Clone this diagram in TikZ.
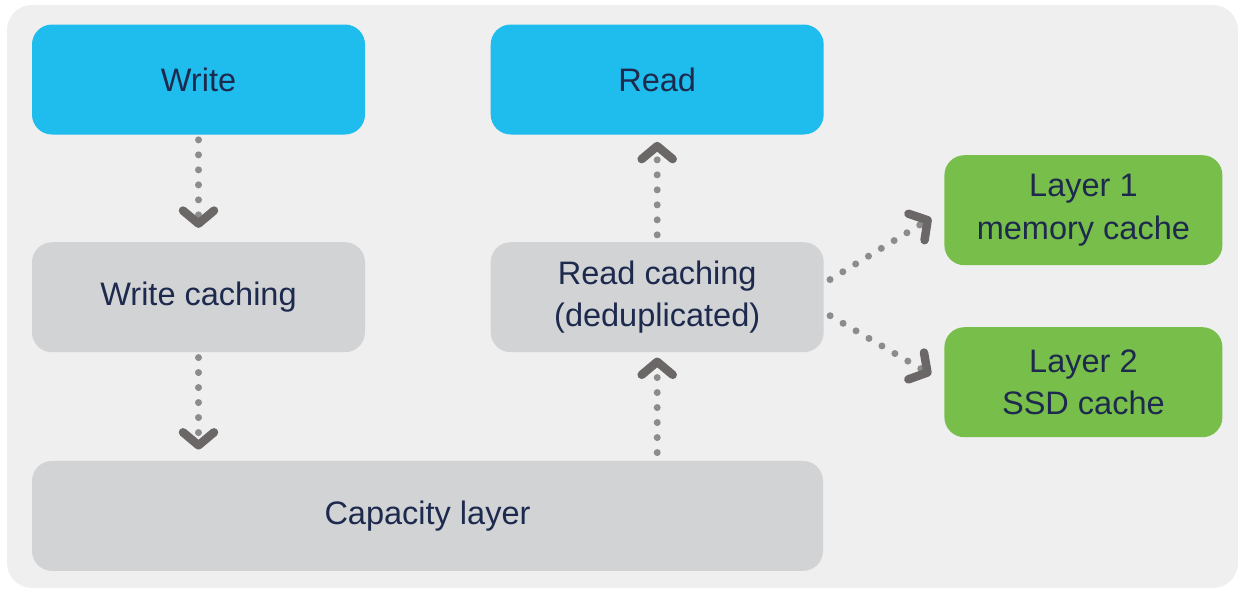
\documentclass[tikz,border=0pt]{standalone}
\usepackage{fontspec}
\setmainfont{Liberation Sans}
\usetikzlibrary{positioning,arrows.meta}

\definecolor{bgcol}{HTML}{EFEFEF}
\definecolor{bluecol}{HTML}{1EBDED}
\definecolor{greycol}{HTML}{D2D3D5}
\definecolor{greencol}{HTML}{78BE4A}
\definecolor{txtcol}{HTML}{1D2A4E}
\definecolor{dotcol}{HTML}{8C8C8C}
\definecolor{chevcol}{HTML}{6B6767}

\tikzset{
  box/.style={rounded corners=0.4cm, minimum width=6.66cm, minimum height=2.2cm,
              align=center, text=txtcol, font=\fontsize{18.5}{24}\selectfont},
  bluebox/.style={box, fill=bluecol},
  greybox/.style={box, fill=greycol},
  greenbox/.style={box, fill=greencol, minimum width=5.56cm},
  flow/.style={draw=dotcol, line width=0.14cm, line cap=round,
               dash pattern=on 0pt off 0.3cm,
               -{Straight Barb[length=0.26cm, width=0.62cm, line width=0.17cm, round, color=chevcol]}},
}

\begin{document}
\begin{tikzpicture}
    \useasboundingbox (0,0) rectangle (24.76,-11.8);
    \fill[bgcol, rounded corners=0.5cm] (0.14,-0.1) rectangle (24.76,-11.76);

    \node[bluebox] (write) at (3.97,-1.59) {Write};
    \node[bluebox, right=2.5cm of write] (read) {Read};
    \node[greybox, below=2.14cm of write] (wcache) {Write caching};
    \node[greybox, below=2.14cm of read] (rcache) {Read caching\\(deduplicated)};
    \node[greybox, minimum width=15.82cm, below=2.16cm of wcache.south west, anchor=north west] (cap) {Capacity layer};
    \node[greenbox, right=2.4cm of rcache.east, yshift=1.74cm] (layer1) {Layer 1\\memory cache};
    \node[greenbox, right=2.4cm of rcache.east, yshift=-1.7cm] (layer2) {Layer 2\\SSD cache};

    % write path
    \draw[flow, shorten <=0.1cm, shorten >=0.28cm] (write) -- (wcache);
    \draw[flow, shorten <=0.1cm, shorten >=0.22cm] (wcache.south) -- (wcache.south |- cap.north);
    % read path
    \draw[flow, shorten <=0.16cm, shorten >=0.1cm] (rcache.south |- cap.north) -- (rcache.south);
    \draw[flow, shorten <=0.14cm, shorten >=0.14cm] (rcache) -- (read);
    % cache layers
    \draw[flow, shorten <=0.14cm, shorten >=0.3cm] ([yshift=0.28cm]rcache.east) -- (layer1.west);
    \draw[flow, shorten <=0.14cm, shorten >=0.3cm] ([yshift=-0.3cm]rcache.east) -- (layer2.west);
\end{tikzpicture}
\end{document}
